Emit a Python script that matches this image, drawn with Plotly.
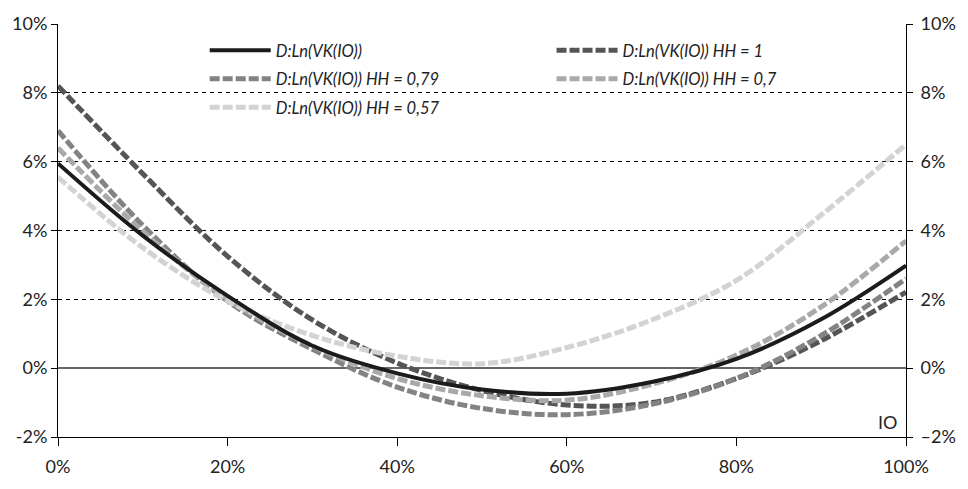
import plotly.graph_objects as go

# Share of IO (in %) and the five curves (in %)
io_pct = [0, 10, 20, 30, 40, 50, 60, 70, 80, 90, 100]
ln_vk = [5.95, 3.85, 2.1, 0.65, -0.15, -0.62, -0.74, -0.4, 0.27, 1.42, 2.98]
ln_vk_hh_1 = [8.2, 5.65, 3.25, 1.4, 0.15, -0.65, -1.07, -1.0, -0.3, 0.8, 2.21]
ln_vk_hh_079 = [6.9, 4.15, 1.95, 0.55, -0.55, -1.17, -1.35, -1.05, -0.3, 0.95, 2.6]
ln_vk_hh_07 = [6.4, 3.98, 2.0, 0.65, -0.3, -0.8, -0.93, -0.47, 0.38, 1.78, 3.7]
ln_vk_hh_057 = [5.55, 3.5, 1.95, 0.95, 0.35, 0.13, 0.6, 1.4, 2.55, 4.45, 6.5]

names = [
    "D:Ln(VK(IO))",
    "D:Ln(VK(IO)) HH = 1",
    "D:Ln(VK(IO)) HH = 0,79",
    "D:Ln(VK(IO)) HH = 0,7",
    "D:Ln(VK(IO)) HH = 0,57",
]

y_ticks = [-2, 0, 2, 4, 6, 8, 10]
y_left_text = ["-2%", "0%", "2%", "4%", "6%", "8%", "10%"]
y_right_text = ["\u20132%", "0%", "2%", "4%", "6%", "8%", "10%"]
x_ticks = [0, 20, 40, 60, 80, 100]
x_text = ["0%", "20%", "40%", "60%", "80%", "100%"]

FONT = "Lato"
DASH = "10px,3px"

fig = go.Figure()

# dashed series first, solid black on top
dashed = [
    (ln_vk_hh_1, names[1], "#555555", "legend2", 1),
    (ln_vk_hh_079, names[2], "#838383", "legend", 2),
    (ln_vk_hh_07, names[3], "#a9a9a9", "legend2", 3),
    (ln_vk_hh_057, names[4], "#d3d3d3", "legend", 4),
]
for vals, nm, col, lg, rank in dashed:
    fig.add_trace(go.Scatter(
        x=io_pct, y=vals, name=nm, mode="lines",
        line=dict(color=col, width=5, dash=DASH, shape="spline", smoothing=1.0),
        legend=lg, legendgroup=nm, legendrank=rank, hoverinfo="skip",
    ))

fig.add_trace(go.Scatter(
    x=io_pct, y=ln_vk, name=names[0], mode="lines",
    line=dict(color="#1b1b1b", width=4, shape="spline", smoothing=1.0),
    legend="legend", legendgroup=names[0], legendrank=0, hoverinfo="skip",
))

# invisible companion so the right-hand axis is drawn
fig.add_trace(go.Scatter(
    x=io_pct, y=ln_vk, yaxis="y2", mode="lines", line=dict(width=0),
    opacity=0, showlegend=False, hoverinfo="skip",
))

tick_font = dict(family=FONT, size=18, color="#222222")
legend_font = dict(family=FONT, size=16.5, color="#222222", style="italic")

fig.update_layout(
    width=968, height=489,
    margin=dict(l=57, r=57, t=23, b=50),
    paper_bgcolor="white", plot_bgcolor="white",
    showlegend=True,
    xaxis=dict(
        range=[0, 100], tickvals=x_ticks, ticktext=x_text,
        showgrid=False, zeroline=False,
        showline=True, linecolor="black", linewidth=1,
        ticks="outside", ticklen=8, tickcolor="black", tickwidth=1,
        ticklabelstandoff=5,
        tickfont=tick_font,
    ),
    yaxis=dict(
        range=[-2, 10], tickvals=y_ticks, ticktext=y_left_text,
        showgrid=True, gridcolor="black", gridwidth=1, griddash="4px,4px",
        zeroline=True, zerolinecolor="#666666", zerolinewidth=2,
        showline=True, linecolor="black", linewidth=1,
        ticks="outside", ticklen=6, tickcolor="black", tickwidth=1,
        tickfont=tick_font,
    ),
    yaxis2=dict(
        range=[-2, 10], tickvals=y_ticks, ticktext=y_right_text,
        overlaying="y", side="right", showgrid=False, zeroline=False,
        showline=True, linecolor="black", linewidth=1,
        ticks="outside", ticklen=6, tickcolor="black", tickwidth=1,
        ticklabelstandoff=4,
        tickfont=tick_font,
    ),
    legend=dict(
        x=0.173, y=0.978, xanchor="left", yanchor="top",
        bgcolor="rgba(0,0,0,0)", font=legend_font,
        itemwidth=61, tracegroupgap=4, traceorder="grouped",
    ),
    legend2=dict(
        x=0.582, y=0.978, xanchor="left", yanchor="top",
        bgcolor="rgba(0,0,0,0)", font=legend_font,
        itemwidth=61, tracegroupgap=4, traceorder="grouped",
    ),
    annotations=[dict(
        x=99.2, y=-1.55, xref="x", yref="y", text="IO", showarrow=False,
        xanchor="right", yanchor="middle",
        font=dict(family=FONT, size=18, color="#222222"),
    )],
)

fig.write_html("out.html")
